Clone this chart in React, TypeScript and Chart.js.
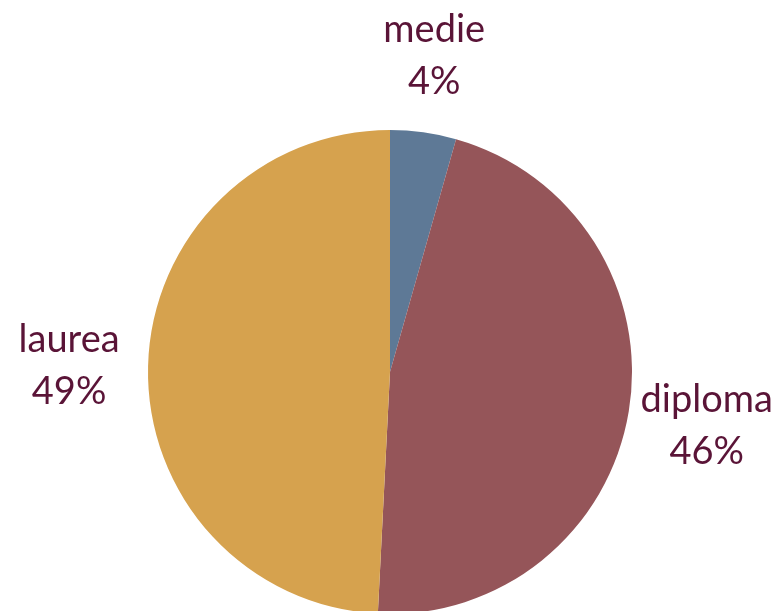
import React, { useEffect, useRef } from "react";
import { Chart, registerables } from "chart.js";

Chart.register(...registerables);

const categories = ["medie", "diploma", "laurea"];
const values = [4.4, 46.4, 49.2];
const percentLabels = ["4%", "46%", "49%"];
const colors = ["#5e7996", "#955559", "#d6a24e"];

const labelPlugin = {
  id: "outerLabels",
  afterDatasetsDraw(chart: any) {
    const ctx = chart.ctx;
    const meta = chart.getDatasetMeta(0);
    ctx.save();
    ctx.fillStyle = "#5a1437";
    ctx.font = "38px Lato";
    ctx.textAlign = "center";
    ctx.textBaseline = "alphabetic";
    meta.data.forEach((arc: any, i: number) => {
      const p = arc.getProps(["startAngle", "endAngle", "x", "y"], true);
      const mid = (p.startAngle + p.endAngle) / 2;
      const r = 321;
      const cx = p.x + Math.cos(mid) * r;
      const cy = p.y + Math.sin(mid) * r;
      ctx.fillText(categories[i], cx, cy - 12);
      ctx.fillText(percentLabels[i], cx, cy + 40);
    });
    ctx.restore();
  },
};

export default function App() {
  const ref = useRef<HTMLCanvasElement | null>(null);
  useEffect(() => {
    if (!ref.current) return;
    const chart = new Chart(ref.current, {
      type: "pie",
      data: {
        labels: categories,
        datasets: [
          {
            data: values,
            backgroundColor: colors,
            borderWidth: 0,
          },
        ],
      },
      options: {
        responsive: false,
        animation: false,
        layout: { padding: { left: 148, right: 150, top: 130, bottom: 6 } },
        plugins: {
          legend: { display: false },
          tooltip: { enabled: false },
        },
      },
      plugins: [labelPlugin],
    });
    return () => chart.destroy();
  }, []);
  return (
    <div
      style={{
        position: "fixed",
        left: 0,
        top: 0,
        width: 782,
        height: 611,
        overflow: "hidden",
        background: "#ffffff",
      }}
    >
      <canvas ref={ref} width={782} height={620} style={{ display: "block" }} />
    </div>
  );
}
